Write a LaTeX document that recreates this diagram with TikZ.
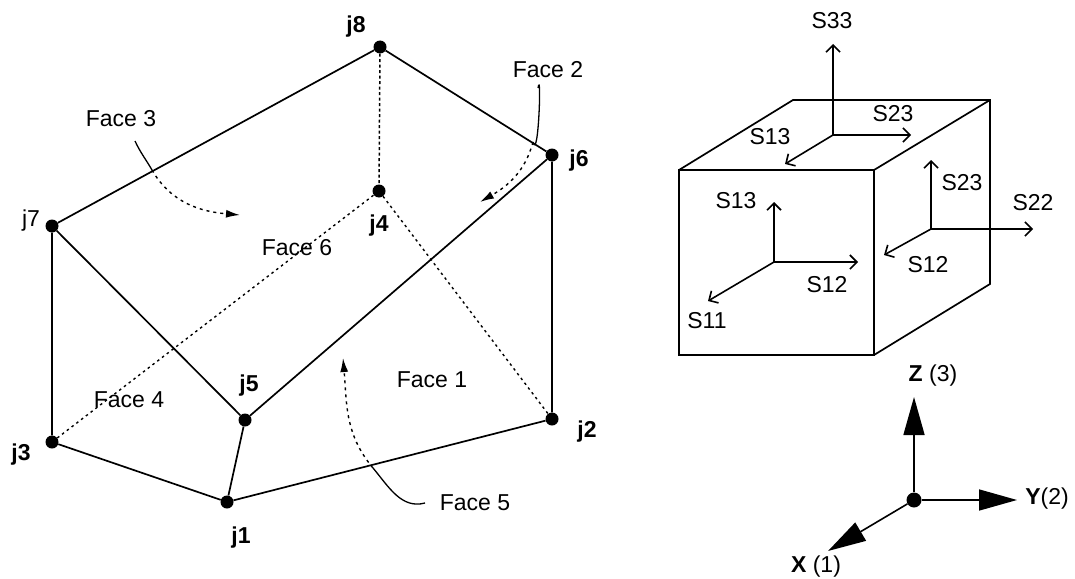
\documentclass[tikz,border=0pt]{standalone}
\usepackage{fontspec}
\setmainfont{Liberation Sans}
\usetikzlibrary{arrows.meta}

\tikzset{
	Joint/.style = {circle, fill=black, inner sep=0pt, minimum size=13pt},
	JointLabel/.style = {inner sep=0pt, font=\fontsize{23}{23}\selectfont\bfseries},
	FaceLabel/.style = {inner sep=0pt, font=\fontsize{23}{23}\selectfont},
	AxisLabel/.style = {inner sep=0pt, font=\fontsize{23}{23}\selectfont},
	Edge/.style = {line width=1.7pt},
	Hidden/.style = {line width=1.5pt, dash pattern=on 3pt off 2.5pt},
	HiddenThin/.style = {line width=1.4pt, dash pattern=on 2.5pt off 3.5pt},
	Leader/.style = {line width=1.3pt},
	LeaderEnd/.style = {line width=1.4pt, dash pattern=on 3pt off 4pt, -{Latex[length=14pt,width=8pt]}},
	Stress/.style = {line width=1.6pt, -{Straight Barb[length=7pt,width=14pt]}},
	CubeEdge/.style = {line width=1.7pt},
	AxisArrow/.style = {line width=1.6pt, -{Triangle[length=38pt,width=21pt]}},
}

\begin{document}
\begin{tikzpicture}[x=1pt, y=-1pt]
		\useasboundingbox (0,0) rectangle (1075,578);
		\node[Joint] (j1) at (227,502) {};
		\node[Joint] (j2) at (552,419) {};
		\node[Joint] (j3) at (52,442) {};
		\node[Joint] (j4) at (379,191) {};
		\node[Joint] (j5) at (245,420) {};
		\node[Joint] (j6) at (552,155) {};
		\node[Joint] (j7) at (52,226) {};
		\node[Joint] (j8) at (380,47) {};
		\node[JointLabel] (lj1) at (241,538) {j1};
		\node[JointLabel] (lj2) at (587,432) {j2};
		\node[JointLabel] (lj3) at (21,455) {j3};
		\node[JointLabel] (lj4) at (379,226) {j4};
		\node[JointLabel] (lj5) at (249,386) {j5};
		\node[JointLabel] (lj6) at (579,161) {j6};
		\node[AxisLabel] (lj7) at (31,221) {j7};
		\node[JointLabel] (lj8) at (356,27) {j8};
		\draw[Edge] (j7) -- (j8) -- (j6) -- (j2) -- (j1) -- (j3) -- (j7) -- (j5) -- (j6);
		\draw[Edge] (j5) -- (j1);
		\draw[Hidden] (j8) -- (j4);
		\draw[HiddenThin] (j3) -- (j4) -- (j2);
		\node[FaceLabel] (f1) at (432,380) {Face 1};
		\node[FaceLabel] (f2) at (548,70) {Face 2};
		\node[FaceLabel] (f3) at (121,119) {Face 3};
		\node[FaceLabel] (f4) at (129,400) {Face 4};
		\node[FaceLabel] (f5) at (475,503) {Face 5};
		\node[FaceLabel] (f6) at (297,248) {Face 6};
		\coordinate (f2a) at (538,88);
		\coordinate (f2b) at (533,142);
		\coordinate (f2c) at (480,202);
		\coordinate (f3a) at (135,141);
		\coordinate (f3b) at (152,170);
		\coordinate (f3c) at (240,215);
		\coordinate (f5a) at (425,503);
		\coordinate (f5b) at (373,468);
		\coordinate (f5c) at (343,358);
		\draw[Leader] (f2a) to[out=80,in=-75] (f2b);
		\draw[LeaderEnd] (f2b) to[out=-105,in=30] (f2c);
		\draw[Leader] (f3a) to[out=-65,in=120] (f3b);
		\draw[LeaderEnd] (f3b) to[out=-60,in=175] (f3c);
		\draw[Leader] (f5a) to[out=195,in=-50] (f5b);
		\draw[LeaderEnd] (f5b) to[out=130,in=-85] (f5c);
		\coordinate (c1) at (679,170);
		\coordinate (c2) at (874,170);
		\coordinate (c3) at (874,355);
		\coordinate (c4) at (679,355);
		\coordinate (c5) at (793,100);
		\coordinate (c6) at (990,100);
		\coordinate (c7) at (990,284);
		\draw[CubeEdge] (c1) -- (c2) -- (c3) -- (c4) -- cycle;
		\draw[CubeEdge] (c1) -- (c5) -- (c6) -- (c7) -- (c3);
		\draw[CubeEdge] (c2) -- (c6);
		\coordinate (top) at (833,135);
		\coordinate (front) at (774,262);
		\coordinate (side) at (931,229);
		\node[FaceLabel] (s33) at (832,21) {S33};
		\node[FaceLabel] (s23t) at (893,114) {S23};
		\node[FaceLabel] (s13t) at (770,137) {S13};
		\node[FaceLabel] (s13f) at (736,201) {S13};
		\node[FaceLabel] (s12f) at (827,285) {S12};
		\node[FaceLabel] (s11) at (707,321) {S11};
		\node[FaceLabel] (s23s) at (962,183) {S23};
		\node[FaceLabel] (s22) at (1033,203) {S22};
		\node[FaceLabel] (s12s) at (928,265) {S12};
		\coordinate (s33e) at (833,44);
		\coordinate (s23te) at (911,135);
		\coordinate (s13te) at (785,164);
		\coordinate (s13fe) at (774,202);
		\coordinate (s12fe) at (858,262);
		\coordinate (s11e) at (708,301);
		\coordinate (s23se) at (931,160);
		\coordinate (s22e) at (1033,229);
		\coordinate (s12se) at (884,255);
		\draw[Stress] (top) -- (s33e);
		\draw[Stress] (top) -- (s23te);
		\draw[Stress] (top) -- (s13te);
		\draw[Stress] (front) -- (s13fe);
		\draw[Stress] (front) -- (s12fe);
		\draw[Stress] (front) -- (s11e);
		\draw[Stress] (side) -- (s23se);
		\draw[Stress] (side) -- (s22e);
		\draw[Stress] (side) -- (s12se);
		\node[Joint, minimum size=15pt] (o) at (914,500) {};
		\coordinate (ze) at (914,397);
		\coordinate (ye) at (1017,500);
		\coordinate (xe) at (828,551);
		\draw[AxisArrow] (o) -- (ze);
		\draw[AxisArrow] (o) -- (ye);
		\draw[AxisArrow] (o) -- (xe);
		\node[AxisLabel] (zl) at (933,376) {\textbf{Z} (3)};
		\node[AxisLabel] (yl) at (1047,499) {\textbf{Y}(2)};
		\node[AxisLabel] (xl) at (816,567) {\textbf{X} (1)};
\end{tikzpicture}
\end{document}
